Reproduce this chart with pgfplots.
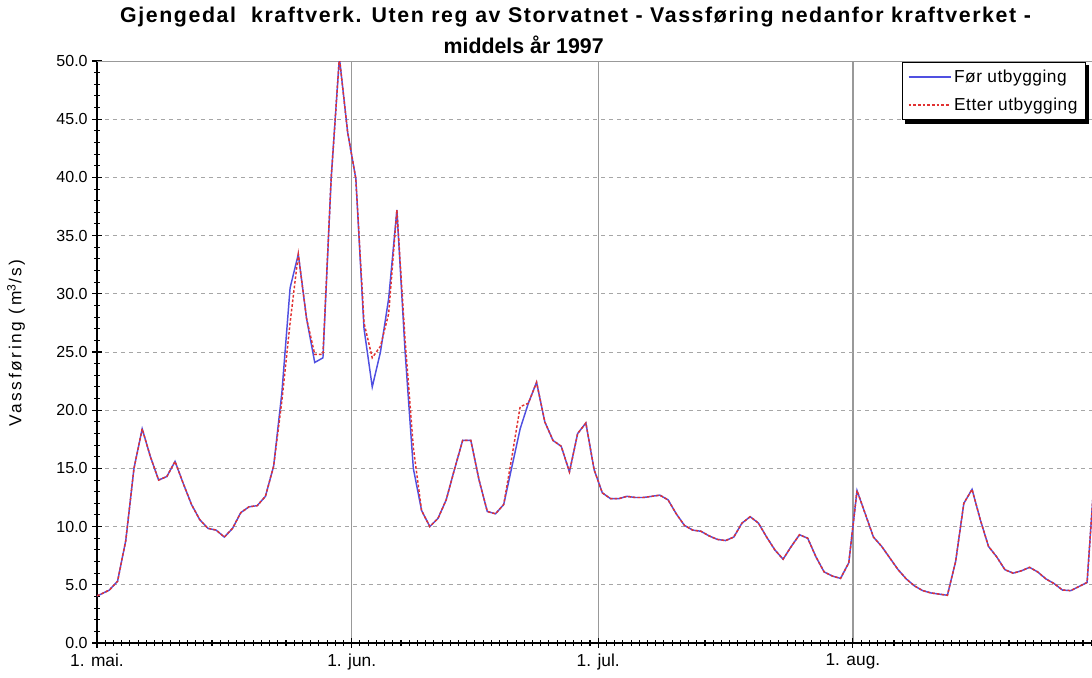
\documentclass[border=0pt]{standalone}
\usepackage{fontspec}
\setmainfont{Liberation Sans}
\newfontfamily\titlewide[LetterSpace=7.5]{Liberation Sans}
\newfontfamily\labelwide[LetterSpace=15]{Liberation Sans}
\newfontfamily\legwide[LetterSpace=3]{Liberation Sans}
\usepackage{pgfplots}
\pgfplotsset{compat=1.18}
\usepackage{pgfplotstable}
\usetikzlibrary{backgrounds}
\definecolor{forblue}{RGB}{80,80,225}
\definecolor{etterred}{RGB}{225,50,50}

\pgfplotstableread{
x b a
-0.5 3.9 3.9
0.5 4.2 4.2
1.5 4.55 4.55
2.5 5.3 5.3
3.5 8.8 8.8
4.5 15.0 15.0
5.5 18.4 18.4
6.5 16.0 16.0
7.5 14.0 14.0
8.5 14.3 14.3
9.5 15.6 15.6
10.5 13.7 13.7
11.5 11.9 11.9
12.5 10.6 10.6
13.5 9.85 9.85
14.5 9.7 9.7
15.5 9.1 9.1
16.5 9.85 9.85
17.5 11.2 11.2
18.5 11.7 11.7
19.5 11.8 11.8
20.5 12.6 12.6
21.5 15.2 15.2
22.5 21.5 20.8
23.5 30.5 27.5
24.5 33.4 33.4
25.5 27.9 27.9
26.5 24.1 24.8
27.5 24.5 24.8
28.5 39.9 39.9
29.5 50.3 50.3
30.5 43.9 43.9
31.5 39.9 39.9
32.5 27.0 27.5
33.5 22.0 24.5
34.5 25.0 25.5
35.5 29.6 28.3
36.5 37.2 37.2
37.5 25.0 26.0
38.5 15.0 16.8
39.5 11.4 11.4
40.5 10.0 10.0
41.5 10.7 10.7
42.5 12.3 12.3
43.5 14.9 14.9
44.5 17.4 17.4
45.5 17.4 17.4
46.5 14.0 14.0
47.5 11.3 11.3
48.5 11.1 11.1
49.5 11.9 11.9
50.5 15.15 16.0
51.5 18.4 20.3
52.5 20.6 20.6
53.5 22.4 22.4
54.5 19.0 19.0
55.5 17.4 17.4
56.5 16.9 16.9
57.5 14.7 14.7
58.5 18.0 18.0
59.5 18.9 18.9
60.5 14.9 14.9
61.5 12.9 12.9
62.5 12.4 12.4
63.5 12.4 12.4
64.5 12.6 12.6
65.5 12.5 12.5
66.5 12.5 12.5
67.5 12.6 12.6
68.5 12.7 12.7
69.5 12.3 12.3
70.5 11.1 11.1
71.5 10.1 10.1
72.5 9.7 9.7
73.5 9.6 9.6
74.5 9.2 9.2
75.5 8.9 8.9
76.5 8.8 8.8
77.5 9.1 9.1
78.5 10.3 10.3
79.5 10.85 10.85
80.5 10.3 10.3
81.5 9.1 9.1
82.5 8.0 8.0
83.5 7.2 7.2
84.5 8.3 8.3
85.5 9.3 9.3
86.5 9.0 9.0
87.5 7.4 7.4
88.5 6.1 6.1
89.5 5.75 5.75
90.5 5.55 5.55
91.5 6.9 6.9
92.5 13.1 13.1
93.5 11.1 11.1
94.5 9.1 9.1
95.5 8.3 8.3
96.5 7.3 7.3
97.5 6.3 6.3
98.5 5.5 5.5
99.5 4.9 4.9
100.5 4.5 4.5
101.5 4.3 4.3
102.5 4.2 4.2
103.5 4.1 4.1
104.5 7.0 7.0
105.5 12.0 12.0
106.5 13.2 13.2
107.5 10.6 10.6
108.5 8.3 8.3
109.5 7.4 7.4
110.5 6.3 6.3
111.5 6.0 6.0
112.5 6.2 6.2
113.5 6.5 6.5
114.5 6.1 6.1
115.5 5.5 5.5
116.5 5.1 5.1
117.5 4.55 4.55
118.5 4.5 4.5
119.5 4.85 4.85
120.5 5.2 5.2
121.5 15.5 15.5
}\flow

\begin{document}
\begin{tikzpicture}
\begin{axis}[
  at={(0,0)}, anchor=south west, scale only axis,
  width=746.25pt, height=436.5pt,
  xmin=0, xmax=121.1, ymin=0, ymax=50,
  axis x line*=bottom, axis y line*=left,
  axis line style={black, line width=1.1pt, -},
  xtick={0,31,61,92}, xticklabels={1. mai.,1. jun.,1. jul.,1. aug.},
  minor xtick={1,...,121},
  ytick={0,5,...,50}, minor ytick={1,...,49},
  /pgf/number format/assume math mode=true,
  y tick label style={/pgf/number format/.cd, fixed, fixed zerofill, precision=1, /tikz/.cd},
  tick align=center, major tick length=7pt, minor tick length=4pt,
  tick style={black, line width=0.8pt},
  xmajorgrids, ymajorgrids,
  major x grid style={black!40, line width=1pt},
  major y grid style={black!35, dashed, line width=0.7pt},
  y tick label style={font=\fontsize{12}{14}\selectfont},
  x tick label style={font=\fontsize{13}{15}\selectfont, yshift=-1pt},
  legend cell align=left,
  legend image code/.code={\draw[#1, line width=1.3pt] (0pt,0pt) -- (31.5pt,0pt);},
  legend style={name=leg, at={(0.994,0.998)}, anchor=north east, draw=black, fill=white,
    line width=0.8pt,
    font=\legwide\fontsize{13}{15}\selectfont, inner xsep=4pt, inner ysep=3.5pt, row sep=6pt,
    /tikz/every even column/.append style={column sep=3pt}},
]
\draw[black!40, line width=1pt] (rel axis cs:0,1) -- (rel axis cs:1,1);
\addplot[forblue, line width=1.1pt] table[x=x, y=b] {\flow};
\addlegendentry{Før utbygging}
\addplot[etterred, line width=1.1pt, dash pattern=on 2pt off 1.5pt] table[x=x, y=a] {\flow};
\addlegendentry{Etter utbygging}
\end{axis}
\begin{scope}[on background layer]
\fill[black] ([xshift=2.5pt,yshift=-2.5pt]leg.south west) rectangle ([xshift=2.5pt,yshift=-2.5pt]leg.north east);
\end{scope}
\node[font=\titlewide\bfseries\fontsize{16}{18}\selectfont] at (358.9pt,469.5pt) {Gjengedal\ \ kraftverk. Uten reg av Storvatnet - Vassføring nedanfor kraftverket -};
\node[font=\bfseries\fontsize{16}{18}\selectfont] at (320pt,448.5pt) {middels år 1997};
\node[rotate=90, font=\labelwide\fontsize{13}{15}\selectfont] at (-60.75pt,225pt) {Vassføring (m\textsuperscript{3}/s)};
\pgfresetboundingbox
\path (-72.75pt,-26.25pt) rectangle (746.25pt,482.25pt);
\end{tikzpicture}
\end{document}
